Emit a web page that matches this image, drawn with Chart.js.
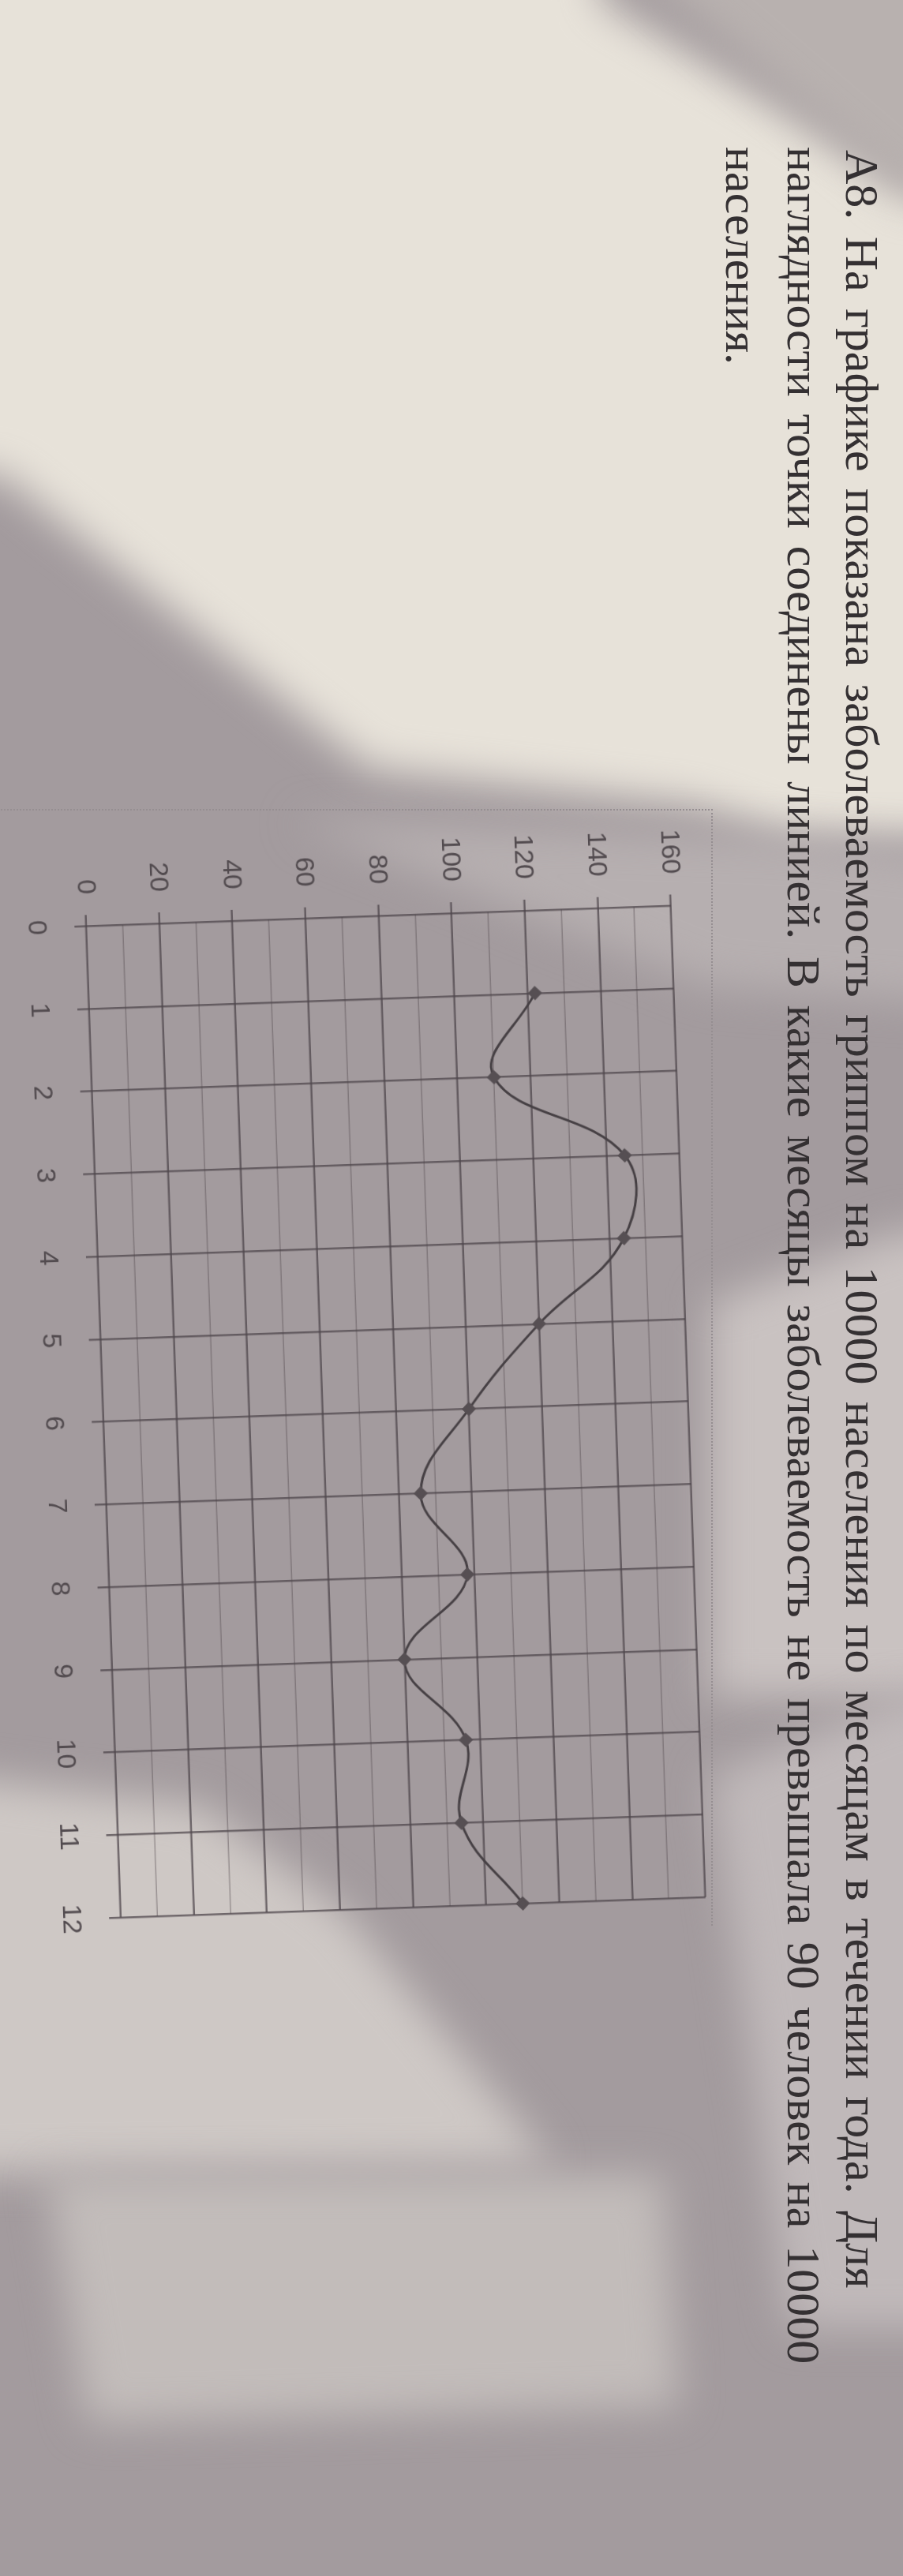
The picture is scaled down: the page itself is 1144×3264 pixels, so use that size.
<!DOCTYPE html>
<html lang="ru">
<head>
<meta charset="utf-8">
<title>А8 — заболеваемость гриппом по месяцам</title>
<script src="https://cdn.jsdelivr.net/npm/chart.js@4.4.1/dist/chart.umd.min.js"></script>
<style>
  html, body { margin: 0; padding: 0; width: 1144px; height: 3264px; overflow: hidden; background: #a39b9e; }
  #bg { position: absolute; left: 0; top: 0; width: 1144px; height: 3264px; overflow: hidden; }
  .sh { position: absolute; left: -200px; top: -200px; width: 1544px; height: 3664px; filter: blur(26px); }
  .sh > div { position: absolute; left: 0; top: 0; width: 1544px; height: 3664px; }
  /* the sheet is photographed turned a quarter turn: its top is on the right */
  #page { position: absolute; left: 0; top: 0; width: 3264px; height: 1144px;
          transform-origin: 0 0; transform: translateX(1144px) rotate(90deg); }
  .ln { position: absolute; font-family: "Liberation Serif", "DejaVu Serif", serif; font-size: 60px;
        line-height: 60px; color: #343032; white-space: nowrap; }
  #frame { position: absolute; left: 1025px; top: 241px; width: 1413px; height: 1000px;
           border-left: 2px dotted #958e91; border-top: 2px dotted #958e91; }
  #chartBox { position: absolute; left: 1000px; top: 200px; width: 1500px; height: 944px;
              transform-origin: 788px 442px; transform: rotate(-2deg); }
</style>
</head>
<body>
<div id="bg"></div>

<div id="page">
  <div class="ln" id="l1" style="left:190px; top:22px;">А8. На графике показана заболеваемость гриппом на 10000 населения по месяцам в течении года. Для</div>
  <div class="ln" id="l2" style="left:186px; top:96px;">наглядности точки соединены линией. В какие месяцы заболеваемость не превышала 90 человек на 10000</div>
  <div class="ln" id="l3" style="left:186px; top:174px;">населения.</div>
  <div id="frame"></div>
  <div id="chartBox"><canvas id="chart" width="1500" height="944"></canvas></div>
</div>

<script>
// Flu cases per 10000 people, by month
const MONTHS = [1, 2, 3, 4, 5, 6, 7, 8, 9, 10, 11, 12];
const CASES = [122, 110, 145, 144, 120, 100, 86, 98, 80, 96, 94, 110];
const VALUE_TICKS = [0, 20, 40, 60, 80, 100, 120, 140, 160];

const LINE_COL = '#464044';
const MAJOR_COL = 'rgba(78, 70, 75, 0.75)';
const MINOR_COL = 'rgba(78, 70, 75, 0.42)';
const TICK_COL = '#524b4f';
const TICK_FONT = { family: '"Liberation Sans", Arial, sans-serif', size: 34 };

function $(id) { return document.getElementById(id); }

// Light and shadow on the photographed sheet (photo pixels, not chart data).
const SHADES = [
  ['#e7e2d9', [[-200, -200], [760, -200], [760, 0], [1144, 230], [1344, 230], [1344, 1060], [1000, 1060], [880, 1020], [470, 975], [0, 600], [-200, 600]]],
  ['#b8b1af', [[620, -200], [1344, -200], [1344, 270], [1144, 250]]],
  ['#b6afb0', [[369, 1040], [1000, 1060], [1344, 1100], [1344, 1280], [900, 1250]]],
  ['#c9c2c1', [[900, 1650], [1144, 1560], [1344, 1560], [1344, 2150], [900, 2150]]],
  ['#cec8c5', [[-200, 2234], [255, 2288], [438, 2424], [700, 2743], [-200, 2756]]],
  ['#c2bcba', [[60, 2756], [840, 2756], [860, 3050], [110, 3070]]],
  ['#c0b9ba', [[900, 2250], [1144, 2150], [1344, 2150], [1344, 2950], [1000, 2950]]],
];
SHADES.forEach(([col, pts]) => {
  const outer = document.createElement('div');
  outer.className = 'sh';
  const inner = document.createElement('div');
  inner.style.background = col;
  inner.style.clipPath = 'polygon(' + pts.map(p => (p[0] + 200) + 'px ' + (p[1] + 200) + 'px').join(', ') + ')';
  outer.appendChild(inner);
  $('bg').appendChild(outer);
});

// Stretch the word gaps so each printed line ends where it does on the sheet.
function fitLine(id, width) {
  const el = $(id);
  const gaps = (el.textContent.match(/ /g) || []).length;
  if (!gaps) return;
  const extra = (width - el.offsetWidth) / gaps;
  el.style.wordSpacing = extra.toFixed(2) + 'px';
}
fitLine('l1', 2710);
fitLine('l2', 2809);

const isMajor = v => v % 20 === 0;

new Chart($('chart'), {
  type: 'line',
  data: {
    datasets: [{
      data: MONTHS.map((m, i) => ({ x: m, y: CASES[i] })),
      borderColor: LINE_COL,
      borderWidth: 3,
      tension: 0.4,
      pointStyle: 'rectRot',
      pointRadius: 7,
      pointBackgroundColor: '#564f53',
      pointBorderColor: '#564f53',
      clip: false,
    }],
  },
  options: {
    responsive: false,
    devicePixelRatio: 1,
    animation: false,
    layout: { padding: { left: 0, top: 72, right: 83, bottom: 0 } },
    plugins: { legend: { display: false }, tooltip: { enabled: false } },
    scales: {
      x: {
        type: 'linear', min: 0, max: 12,
        afterFit: s => { s.height = 131; },
        border: { display: false },
        grid: { color: MAJOR_COL, lineWidth: 2.5, tickLength: 15 },
        ticks: {
          stepSize: 1, padding: 28, color: TICK_COL, font: TICK_FONT,
          maxRotation: 0, autoSkip: false, callback: v => String(v),
        },
      },
      y: {
        min: 0, max: 160,
        afterFit: s => { s.width = 160; },
        border: { display: false },
        grid: {
          color: c => isMajor(c.tick.value) ? MAJOR_COL : MINOR_COL,
          lineWidth: c => isMajor(c.tick.value) ? 2.5 : 1.6,
          tickLength: 14,
          tickColor: c => isMajor(c.tick.value) ? MAJOR_COL : 'rgba(0,0,0,0)',
        },
        ticks: {
          stepSize: 10, padding: 26, color: TICK_COL, font: TICK_FONT, autoSkip: false,
          callback: v => VALUE_TICKS.includes(v) ? String(v) : '',
        },
      },
    },
  },
});
</script>
</body>
</html>
